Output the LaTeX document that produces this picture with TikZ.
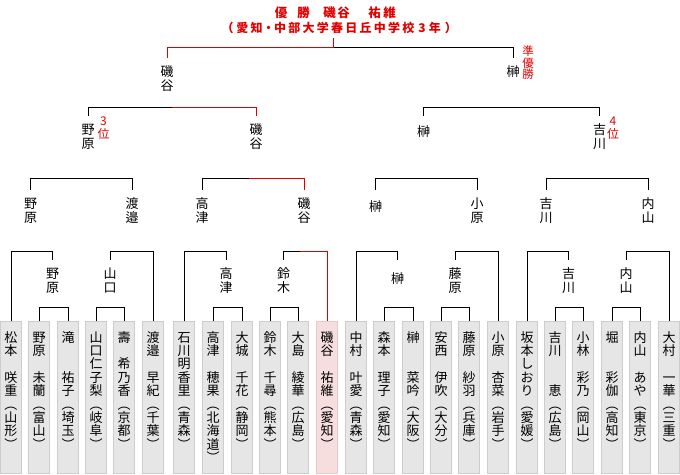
\documentclass[tikz,border=0pt]{standalone}
\usepackage{fontspec}
\newfontfamily\cjk{Noto Sans CJK JP}
\usetikzlibrary{calc}
\definecolor{wred}{RGB}{225,0,0}
\definecolor{boxfill}{RGB}{230,230,230}
\definecolor{boxline}{RGB}{205,205,205}
\definecolor{winfill}{RGB}{246,221,222}
\definecolor{winline}{RGB}{232,200,202}
\makeatletter
\newdimen\vth \newdimen\vtd
\vth=11.44pt \vtd=1.96pt
\newcommand\vtx[1]{\vbox{\offinterlineskip\@tfor\vtx@c:=#1\do{\hbox to 14pt{\hss\vrule width\z@ height\vth depth\vtd\relax\vtx@c\hss}}}}
\makeatother
\begin{document}
\begin{tikzpicture}[x=1pt,y=-1pt,
  pbox/.style={draw=boxline,fill=boxfill,line width=1pt,minimum width=21pt,minimum height=152pt,anchor=north west,inner sep=0pt,outer sep=0pt},
  wbox/.style={pbox,draw=winline,fill=winfill},
  ptxt/.style={font=\cjk\fontsize{13}{13}\selectfont,anchor=north,inner sep=0pt},
  lbl/.style={font=\cjk\fontsize{13}{13}\selectfont,anchor=north,inner xsep=0pt,inner ysep=7.5pt,outer sep=0pt,execute at begin node={\vth=11.44pt\vtd=2.36pt}},
  conn/.style={line width=1pt,draw=black},
  win/.style={line width=1pt,draw=wred},
  rtxt/.style={text=wred,anchor=north,inner sep=0pt}]
\useasboundingbox (0,0) rectangle (680,474);
% player boxes
\foreach \L [count=\k] in {0,28,57,85,113,142,173,202,231,259,287,316,345,373,402,430,458,487,516,544,572,601,629,658}{
  \ifnum\k=12
    \node[wbox] (p\k) at (\L+0.5,321) {};
  \else
    \node[pbox] (p\k) at (\L+0.5,321) {};
  \fi
}
\foreach \k/\s in {1/松本　咲重︵山形︶,2/野原　未蘭︵富山︶,3/滝　　祐子︵埼玉︶,4/山口仁子梨︵岐阜︶,5/壽　希乃香︵京都︶,6/渡邉　早紀︵千葉︶,7/石川明香里︵青森︶,8/高津　穂果︵北海道︶,9/大城　千花︵静岡︶,10/鈴木　千尋︵熊本︶,11/大島　綾華︵広島︶,12/磯谷　祐維︵愛知︶,13/中村　叶愛︵青森︶,14/森本　理子︵愛知︶,15/榊　　菜吟︵大阪︶,16/安西　伊吹︵大分︶,17/藤原　紗羽︵兵庫︶,18/小原　杏菜︵岩手︶,19/坂本しおり︵愛媛︶,20/吉川　　恵︵広島︶,21/小林　彩乃︵岡山︶,22/堀　　彩伽︵高知︶,23/内山　あや︵東京︶,24/大村　一華︵三重︶}{
  \node[ptxt] (t\k) at ($(p\k.north)+(0,9.5)$) {\expandafter\vtx\expandafter{\s}};
}
% level 2 labels
\node[lbl] (a2) at (52.5,259.5) {\vtx{野原}};
\node[lbl] (b2) at (110,259.5) {\vtx{山口}};
\node[lbl] (c2) at (226,259.5) {\vtx{高津}};
\node[lbl] (d2) at (283.5,259.5) {\vtx{鈴木}};
\node[lbl] (e2) at (397.5,259.5) {\vbox{\kern5pt\vtx{榊}}};
\node[lbl] (f2) at (455,259.5) {\vtx{藤原}};
\node[lbl] (g2) at (568.5,259.5) {\vtx{吉川}};
\node[lbl] (h2) at (626,259.5) {\vtx{内山}};
% level 3 labels
\node[lbl] (a3) at (30.5,189.5) {\vtx{野原}};
\node[lbl] (b3) at (132,189.5) {\vtx{渡邉}};
\node[lbl] (c3) at (202,189.5) {\vtx{高津}};
\node[lbl] (d3) at (304,189.5) {\vtx{磯谷}};
\node[lbl] (e3) at (375.5,189.5) {\vbox{\kern3pt\vtx{榊}}};
\node[lbl] (f3) at (477,189.5) {\vtx{小原}};
\node[lbl] (g3) at (546,189.5) {\vtx{吉川}};
\node[lbl] (h3) at (648,189.5) {\vtx{内山}};
% level 4 labels
\node[lbl] (a4) at (88,116) {\vtx{野原}};
\node[lbl] (b4) at (256,116) {\vtx{磯谷}};
\node[lbl] (c4) at (423.5,116) {\vbox{\kern1.5pt\vtx{榊}}};
\node[lbl] (d4) at (599.5,116) {\vtx{吉川}};
% level 5 labels
\node[lbl] (a5) at (167,57.5) {\vtx{磯谷}};
\node[lbl] (b5) at (513,57.5) {\vtx{榊}};
% red notes
\node[rtxt,font=\cjk\fontsize{11.5}{11.5}\selectfont] (jyu) at (528,45) {\vth=10.12pt\vtd=1.58pt\vtx{準優勝}};
\node[rtxt,font=\cjk\fontsize{12}{12}\selectfont] (r3) at (103.5,114.44) {\vth=10.56pt\vtd=2.44pt\vtx{3位}};
\node[rtxt,font=\cjk\fontsize{12}{12}\selectfont] (r4) at (613,114.44) {\vth=10.56pt\vtd=2.44pt\vtx{4位}};
% title
\node[font=\cjk\bfseries\fontsize{12.5}{12.5}\selectfont,text=wred,anchor=base west,inner sep=0pt] (ttl1) at (274.7,17.3) {優\kern10pt 勝\kern13.5pt 磯\kern1.5pt 谷\kern18.5pt 祐\kern2.5pt 維};
\node[font=\cjk\bfseries\fontsize{12}{12}\selectfont,text=wred,anchor=base west,inner sep=0pt] (ttl2) at (221.5,32.3) {（\kern2.8pt 愛\kern2.25pt 知\kern-0.25pt ・\kern-0.3pt 中\kern2.25pt 部\kern2.25pt 大\kern2.25pt 学\kern2.25pt 春\kern2.25pt 日\kern2.25pt 丘\kern2.25pt 中\kern2.25pt 学\kern2.25pt 校\kern4pt 3\kern3pt 年\kern4pt ）};
% level 1 bars
\foreach \u/\v in {2/3,4/5,8/9,10/11,14/15,16/17,20/21,22/23}{
  \draw[conn] (p\u.north) -- ++(0,-14) -| (p\v.north);
}
% level 2 bars
\draw[conn] (p1.north) -- ++(0,-70) -| (a2.north);
\draw[conn] (b2.north) -- ++(0,-8.5) -| (p6.north);
\draw[conn] (p7.north) -- ++(0,-70) -| (c2.north);
\coordinate (j2) at (300,251);
\draw[conn] (d2.north) |- (j2);
\draw[win] (j2) -| (p12.north);
\draw[conn] (p13.north) -- ++(0,-70) -| (e2.north);
\draw[conn] (f2.north) -- ++(0,-8.5) -| (p18.north);
\draw[conn] (p19.north) -- ++(0,-70) -| (g2.north);
\draw[conn] (h2.north) -- ++(0,-8.5) -| (p24.north);
% level 3 bars
\draw[conn] (a3.north) -- ++(0,-11.5) -| (b3.north);
\coordinate (j3) at (249,178);
\draw[conn] (c3.north) |- (j3);
\draw[win] (j3) -| (d3.north);
\draw[conn] (e3.north) -- ++(0,-11.5) -| (f3.north);
\draw[conn] (g3.north) -- ++(0,-11.5) -| (h3.north);
% level 4 bars
\coordinate (j4) at (172,107);
\draw[conn] (a4.north) |- (j4);
\draw[win] (j4) -| (b4.north);
\draw[conn] (c4.north) -- ++(0,-9) -| (d4.north);
% final
\coordinate (j5) at (333,47);
\coordinate (ts) at (333,38);
\draw[conn] (j5) -| (b5.north);
\draw[win] (ts) -- (j5) -| (a5.north);
\end{tikzpicture}
\end{document}
